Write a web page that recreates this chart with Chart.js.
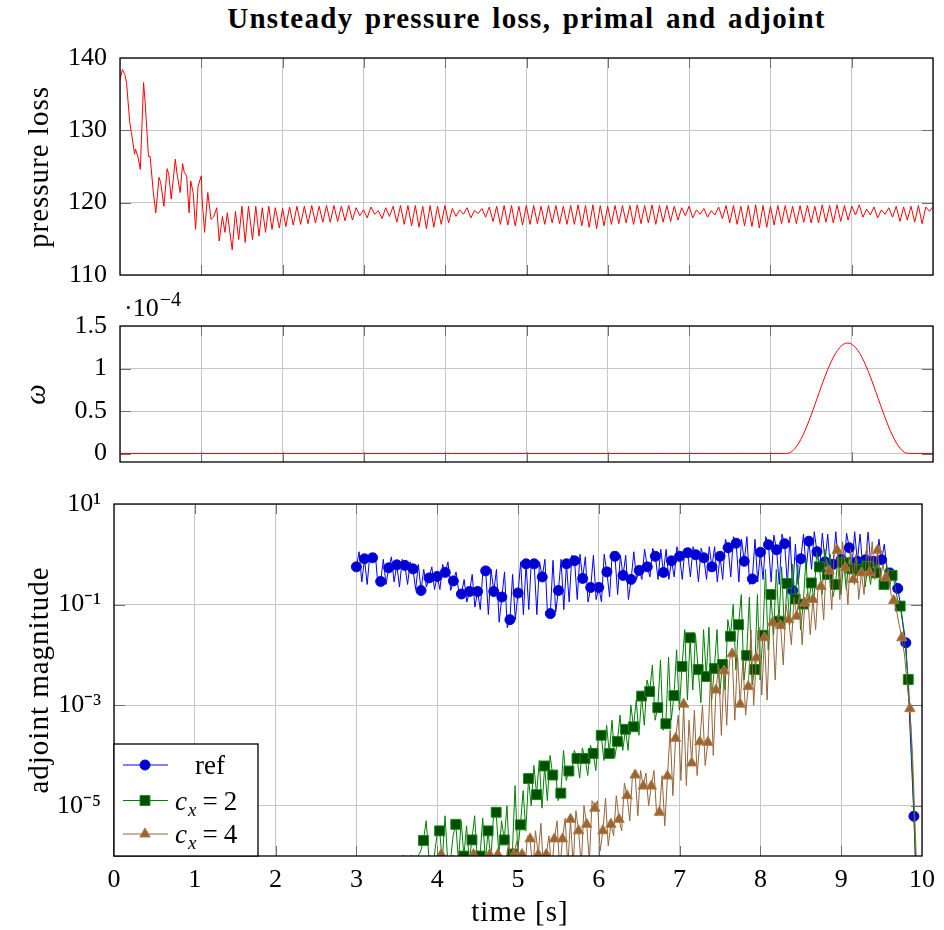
<!DOCTYPE html>
<html lang="en">
<head>
<meta charset="UTF-8">
<title>Unsteady pressure loss, primal and adjoint</title>
<script src="https://cdn.jsdelivr.net/npm/chart.js"></script>
<style>
  html, body { margin: 0; padding: 0; background: #fff; }
  #page { position: relative; width: 944px; height: 930px; font-family: 'Liberation Serif', 'Times New Roman', serif; color: #000; }
  #page canvas { position: absolute; left: 0; }
  #title { position: absolute; left: 120px; width: 813px; top: 2px; text-align: center; font-size: 29px; font-weight: bold; letter-spacing: 1.3px; word-spacing: 3px; }
  #omegaScale { position: absolute; left: 124px; top: 293px; font-size: 26px; line-height: 30px; }
  #omegaScale sup { font-size: 20px; line-height: 0; margin-left: 1px; }
  .axisTitle { position: absolute; font-size: 29px; letter-spacing: 1px; white-space: nowrap; line-height: 34px; }
  .rot { transform: translate(-50%, -50%) rotate(-90deg); }
  .flat { transform: translate(-50%, -50%); }
</style>
</head>
<body>
<div id="page">
  <div id="title">Unsteady pressure loss, primal and adjoint</div>
  <canvas id="pressureChart" width="944" height="300" style="top:0"></canvas>
  <canvas id="omegaChart" width="944" height="180" style="top:300px"></canvas>
  <canvas id="adjointChart" width="944" height="450" style="top:480px"></canvas>
  <div id="omegaScale">·10<sup>−4</sup></div>
  <div class="axisTitle rot" style="left:38px; top:167px">pressure loss</div>
  <div class="axisTitle rot" style="left:35px; top:394px; font-style:italic">ω</div>
  <div class="axisTitle rot" style="left:38px; top:680px">adjoint magnitude</div>
  <div class="axisTitle flat" style="left:520px; top:911px">time [s]</div>
</div>

<script>
// ---------- data ----------
const timeTicks = [0, 1, 2, 3, 4, 5, 6, 7, 8, 9, 10];
const pressureTicks = [110, 120, 130, 140];
const omegaTicks = [0, 0.5, 1, 1.5];
const adjointTicks = [1e-5, 1e-3, 1e-1, 1e1];

// pressure loss, first two seconds read point by point: [t, value]
const pressureStart = [
  [0.0,137.0],[0.03,138.4],[0.06,137.7],[0.08,136.6],[0.12,131.1],[0.14,129.7],[0.18,126.7],[0.19,127.4],
  [0.22,126.4],[0.25,124.6],[0.29,136.6],[0.31,133.8],[0.35,126.4],[0.37,126.4],[0.41,121.4],[0.44,118.6],
  [0.48,123.5],[0.5,122.8],[0.54,119.5],[0.58,124.7],[0.6,123.9],[0.63,120.5],[0.68,126.0],[0.7,124.1],
  [0.74,121.4],[0.77,125.4],[0.79,124.2],[0.82,123.7],[0.85,118.6],[0.87,123.0],[0.9,121.4],[0.93,116.3],
  [0.96,122.3],[1.0,123.7],[1.01,120.5],[1.04,115.9],[1.08,121.4],[1.12,117.7],[1.15,118.0],[1.19,119.3],
  [1.22,114.7],[1.26,118.1],[1.29,115.9],[1.32,118.6],[1.38,113.5],[1.42,118.8],[1.46,114.9],[1.5,119.5],
  [1.54,114.5],[1.58,119.5],[1.63,114.9],[1.67,119.5],[1.71,115.4],[1.75,119.3],[1.79,115.9],[1.83,119.5],
  [1.87,116.3],[1.91,119.3],[1.96,116.5],[2.0,119.2]
];
// after that the oscillation is read every 0.0455 s
const pressureLateT0 = 2.04;
const pressureLateDt = 0.0455;
const pressureLate = [
  116.7,119.4,116.9,119.5,117.0,119.5,117.1,119.6,117.2,119.5,117.3,119.6,117.3,119.6,117.4,119.5,117.5,119.6,117.6,
  119.3,118.2,119.0,117.9,119.4,118.4,118.9,117.8,119.3,118.1,119.5,
  117.3,119.6,117.0,119.6,116.8,119.6,116.6,119.5,116.4,119.6,116.6,119.5,117.0,119.6,117.2,
  119.2,118.1,119.0,118.4,119.3,117.9,118.9,118.5,119.2,118.0,119.4,
  117.4,119.5,117.0,119.6,116.9,119.6,116.8,119.5,116.9,
  119.6,117.0,119.6,117.1,119.5,117.0,119.6,117.2,119.6,117.1,119.5,117.0,119.6,117.0,119.7,116.8,119.6,116.6,119.7,116.4,119.6,116.8,
  119.5,117.0,119.6,117.1,119.6,117.2,119.6,117.0,119.7,117.1,119.6,117.2,119.7,117.0,119.6,117.3,119.6,117.4,119.5,117.6,
  119.3,118.2,119.5,117.9,119.0,118.4,119.2,118.0,118.9,118.3,119.4,117.8,
  119.6,117.2,119.6,117.0,119.5,116.8,119.6,116.7,119.7,116.5,119.6,116.6,119.5,116.9,
  119.6,117.1,119.6,117.2,119.5,117.1,119.6,117.3,119.6,117.2,119.5,117.2,119.7,117.3,119.6,117.2,119.7,117.4,119.6,117.6,
  119.5,118.3,119.7,118.0,119.1,118.3,119.4,117.9,119.0,118.4,119.3,118.0,119.5,
  117.4,119.4,117.6,119.5,117.3,119.6,117.1,119.4,118.8,119.5
];

// omega, in units of 1e-4
const omegaTime = [0, 8.15, 8.2, 8.25, 8.3, 8.35, 8.4, 8.45, 8.5, 8.55, 8.6, 8.65, 8.7, 8.75, 8.8, 8.85, 8.9, 8.95,
  9.0, 9.05, 9.1, 9.15, 9.2, 9.25, 9.3, 9.35, 9.4, 9.45, 9.5, 9.55, 9.6, 9.65, 9.7, 9.75, 10];
const omegaValue = [0, 0, 0, 0.014, 0.056, 0.124, 0.215, 0.325, 0.449, 0.582, 0.718, 0.851, 0.975, 1.085, 1.176, 1.244, 1.286, 1.3,
  1.286, 1.244, 1.176, 1.085, 0.975, 0.851, 0.718, 0.582, 0.449, 0.325, 0.215, 0.124, 0.056, 0.014, 0, 0, 0];

// adjoint magnitude as log10 values: one mark every 0.1 s and two points in between
const markDt = 0.1;

const refT0 = 3.0;
const refMarks = [
  -0.25,-0.09,-0.07,-0.54,-0.27,-0.21,-0.22,-0.29,-0.72,-0.47,
  -0.44,-0.36,-0.53,-0.79,-0.74,-0.74,-0.33,-0.74,-0.85,-1.30,
  -0.77,-0.19,-0.19,-0.45,-1.18,-0.72,-0.19,-0.13,-0.48,-0.66,
  -0.66,-0.35,-0.04,-0.42,-0.50,-0.32,-0.25,-0.04,-0.36,-0.13,
  -0.04,0.03,-0.01,-0.07,-0.25,-0.04,0.13,0.22,-0.14,-0.49,
  0.04,0.19,0.09,0.21,-0.72,-0.09,0.26,0.05,-0.15,-0.20,
  -0.10,0.13,-0.14,-0.11,-0.14,-0.11,-0.37,-0.68,-1.76,-5.21
];
const refBetween = [
  [0.05,-0.55],[-0.6,0.0],[0.02,-0.62],[-0.1,-0.6],[-0.05,-0.55],
  [-0.65,-0.1],[-0.6,-0.15],[-0.7,-0.2],[-0.3,-0.65],[-0.25,-0.7],
  [-0.7,-0.2],[-0.15,-0.72],[-0.35,-0.75],[-0.5,-0.95],[-0.4,-1.05],
  [-1.1,-0.3],[-1.2,-0.3],[-0.3,-1.35],[-0.35,-1.46],[-0.4,-1.3],
  [-0.15,-1.2],[-1.1,-0.1],[-1.2,-0.15],[-0.1,-1.25],[-0.12,-1.15],
  [-0.1,-1.1],[-0.95,-0.02],[-0.9,0.0],[-0.05,-0.95],[-0.02,-0.9],
  [-0.95,0.0],[-0.85,0.05],[-0.8,-0.02],[-0.02,-0.9],[0.05,-0.5],
  [-0.5,0.1],[-0.45,0.12],[-0.5,0.1],[0.1,-0.5],[-0.45,0.15],
  [-0.5,0.12],[-0.45,0.15],[-0.55,0.12],[-0.5,0.15],[0.15,-0.55],
  [-0.5,0.3],[-0.45,0.35],[-0.55,0.3],[0.35,-0.6],[0.3,-0.55],
  [-0.5,0.35],[-0.55,0.38],[-0.6,0.4],[-0.6,0.35],[0.2,-0.6],
  [0.4,-0.3],[-0.3,0.45],[-0.25,0.42],[0.4,-0.3],[0.45,-0.25],
  [-0.3,0.42],[-0.25,0.45],[0.4,-0.25],[0.44,-0.2],[-0.3,0.3],
  [0.2,-0.3],[-0.45,-0.5],[-1.0,-1.4],[-2.8,-4.0],[-6.6,-7.5]
];

const cx2T0 = 3.53;
const cx2Marks = [
  -6.1,-6.1,-6.1,-5.69,-6.1,-5.50,-6.1,-5.37,-6.0,-5.68,
  -6.0,-5.50,-5.13,-5.68,-5.96,-5.38,-4.46,-4.78,-4.21,-4.39,
  -4.75,-4.31,-4.06,-4.06,-3.96,-3.60,-3.96,-3.72,-3.48,-3.43,
  -2.82,-2.73,-3.05,-3.37,-2.81,-2.23,-1.66,-2.29,-2.43,-2.27,
  -2.19,-1.63,-1.40,-2.01,-2.29,-1.61,-0.80,-1.33,-0.58,-0.89,
  -0.99,-0.57,-0.25,-0.40,-0.60,-0.17,-0.29,-0.31,-0.24,-0.37,
  -0.60,-0.42,-1.03,-2.49,-6.8
];
const cx2Between = [
  [-6.0,-6.0],[-6.0,-6.0],[-6.0,-5.9],[-5.3,-6.0],[-6.0,-5.6],
  [-6.1,-5.2],[-6.1,-5.6],[-6.1,-5.3],[-5.4,-6.1],[-5.2,-6.1],
  [-5.25,-6.1],[-6.1,-5.2],[-6.0,-5.3],[-5.0,-6.1],[-4.6,-5.9],
  [-4.7,-5.5],[-5.0,-4.2],[-4.1,-5.05],[-4.9,-4.0],[-4.3,-4.9],
  [-3.9,-4.5],[-4.4,-3.9],[-4.45,-3.85],[-4.4,-3.8],[-4.3,-3.6],
  [-4.1,-3.4],[-3.3,-4.05],[-3.2,-3.9],[-3.9,-3.0],[-2.9,-3.6],
  [-3.4,-2.5],[-2.2,-3.3],[-2.1,-3.5],[-2.05,-3.3],[-1.9,-3.1],
  [-1.5,-2.9],[-2.7,-1.6],[-2.95,-1.5],[-1.45,-2.9],[-1.5,-2.8],
  [-2.7,-1.3],[-1.0,-2.3],[-0.8,-2.5],[-0.85,-2.6],[-0.8,-2.5],
  [-0.3,-1.9],[-1.6,-0.3],[-0.25,-1.5],[-1.4,-0.2],[-0.2,-1.5],
  [-0.1,-1.0],[-0.9,0.05],[-0.8,0.1],[0.0,-0.85],[0.02,-0.8],
  [-0.7,-0.05],[-0.6,-0.1],[-0.1,-0.65],[-0.6,-0.1],[-0.15,-0.7],
  [-0.2,-0.65],[-0.6,-0.9],[-1.4,-1.9],[-3.5,-5.0]
];

const cx4T0 = 3.85;
const cx4Marks = [
  -6.1,-6.1,-5.97,-6.1,-6.1,-6.1,-5.97,-6.1,-5.97,-5.97,
  -6.1,-5.97,-5.97,-5.66,-5.97,-5.97,-5.66,-5.66,-5.27,-5.50,
  -5.37,-5.05,-5.50,-5.37,-5.27,-4.80,-4.39,-4.61,-4.61,-5.13,
  -4.41,-3.66,-2.98,-4.15,-3.73,-3.74,-2.70,-2.32,-1.98,-2.98,
  -2.63,-2.06,-1.66,-1.36,-1.42,-1.30,-1.23,-0.97,-0.90,-0.64,
  -0.33,0.08,-0.27,-0.50,-0.37,-0.37,0.08,-0.47,-0.92,-1.66,
  -3.07,-7.0
];
const cx4Between = [
  [-6.0,-6.0],[-6.0,-6.0],[-6.0,-6.0],[-6.0,-6.0],[-6.0,-6.0],
  [-6.0,-6.0],[-6.0,-6.0],[-6.0,-6.0],[-6.0,-6.0],[-6.0,-6.0],
  [-5.75,-6.2],[-5.7,-6.2],[-6.3,-5.6],[-6.3,-5.5],[-5.35,-6.3],
  [-5.6,-6.3],[-5.3,-6.3],[-5.25,-6.2],[-6.2,-5.1],[-6.2,-5.0],
  [-6.1,-4.9],[-4.9,-5.9],[-4.85,-5.8],[-5.6,-4.8],[-5.5,-4.55],
  [-5.3,-4.4],[-5.2,-4.3],[-4.35,-5.0],[-4.3,-5.2],[-4.4,-5.4],
  [-3.5,-4.8],[-3.2,-4.5],[-4.6,-3.3],[-3.1,-4.4],[-3.0,-4.2],
  [-2.4,-4.0],[-2.2,-3.6],[-3.4,-2.1],[-3.3,-2.0],[-2.1,-3.2],
  [-1.5,-3.0],[-1.45,-2.8],[-2.9,-1.4],[-2.5,-1.2],[-2.2,-1.0],
  [-1.8,-0.85],[-0.8,-1.8],[-0.75,-1.6],[-1.5,-0.6],[-1.3,-0.1],
  [-1.1,0.2],[-0.9,0.25],[-1.0,0.1],[0.0,-0.9],[-0.8,0.2],
  [0.25,-0.5],[-0.5,-0.2],[-0.3,-0.8],[-1.1,-1.4],[-2.0,-2.6],
  [-4.0,-5.5]
];

// ---------- helpers ----------
const FONT = "'Liberation Serif', 'Times New Roman', serif";
const GRID = '#c6c6c6';

function pressurePoints() {
  const pts = pressureStart.map(p => ({ x: p[0], y: p[1] }));
  pressureLate.forEach((v, i) => pts.push({ x: pressureLateT0 + i * pressureLateDt, y: v }));
  return pts;
}

function adjointPoints(t0, marks, between) {
  const pts = [];
  marks.forEach((m, i) => {
    const t = t0 + i * markDt;
    pts.push({ x: t, y: Math.pow(10, m), mark: true });
    const b = between[i];
    if (b) {
      pts.push({ x: t + markDt / 3, y: Math.pow(10, b[0]) });
      pts.push({ x: t + 2 * markDt / 3, y: Math.pow(10, b[1]) });
    }
  });
  return pts;
}

function fixedTicks(values) {
  return scale => { scale.ticks = values.map(v => ({ value: v })); };
}

// keep the plot box exactly where it is in the reference
function fitY(width) {
  return s => { s.width = width; s.paddingTop = 0; s.paddingBottom = 0; };
}

// box around the plot with the small inward tick marks
const framePlugin = {
  id: 'frame',
  afterDatasetsDraw(chart) {
    const { ctx, chartArea: a, scales: { x, y } } = chart;
    ctx.save();
    ctx.strokeStyle = '#707070';
    ctx.lineWidth = 1;
    ctx.beginPath();
    x.ticks.forEach(t => {
      const px = Math.round(x.getPixelForValue(t.value)) + 0.5;
      if (px <= a.left + 1 || px >= a.right - 1) return;
      ctx.moveTo(px, a.bottom); ctx.lineTo(px, a.bottom - 10);
      ctx.moveTo(px, a.top); ctx.lineTo(px, a.top + 10);
    });
    y.ticks.forEach(t => {
      const py = Math.round(y.getPixelForValue(t.value)) + 0.5;
      if (py <= a.top + 1 || py >= a.bottom - 1) return;
      ctx.moveTo(a.left, py); ctx.lineTo(a.left + 11, py);
      ctx.moveTo(a.right, py); ctx.lineTo(a.right - 11, py);
    });
    ctx.stroke();
    ctx.strokeStyle = '#000';
    ctx.lineWidth = 1.3;
    ctx.strokeRect(a.left, a.top, a.width, a.height);
    ctx.restore();
  }
};

function drawMark(ctx, style, x, y, r, fill, stroke) {
  ctx.beginPath();
  if (style === 'circle') {
    ctx.arc(x, y, r, 0, Math.PI * 2);
  } else if (style === 'rect') {
    const h = r * Math.SQRT1_2;
    ctx.rect(x - h, y - h, 2 * h, 2 * h);
  } else {
    ctx.moveTo(x, y - r);
    ctx.lineTo(x + 0.866 * r, y + 0.5 * r);
    ctx.lineTo(x - 0.866 * r, y + 0.5 * r);
    ctx.closePath();
  }
  ctx.fillStyle = fill;
  ctx.fill();
  ctx.strokeStyle = stroke;
  ctx.lineWidth = 1;
  ctx.stroke();
}

const series = [
  { label: 'ref', t0: refT0, marks: refMarks, between: refBetween, line: '#0000ff', fill: '#0000cc', edge: '#0000ff', style: 'circle', r: 5 },
  { label: 'c_x = 2', t0: cx2T0, marks: cx2Marks, between: cx2Between, line: '#008000', fill: '#004f00', edge: '#158a15', style: 'rect', r: 7 },
  { label: 'c_x = 4', t0: cx4T0, marks: cx4Marks, between: cx4Between, line: '#96643a', fill: '#996633', edge: '#b27a45', style: 'triangle', r: 6 }
];

const legendPlugin = {
  id: 'adjLegend',
  afterDraw(chart) {
    const { ctx, chartArea: a } = chart;
    const x0 = a.left, y0 = 264, x1 = 258, y1 = a.bottom;
    ctx.save();
    ctx.fillStyle = '#fff';
    ctx.fillRect(x0, y0, x1 - x0, y1 - y0);
    ctx.strokeStyle = '#000';
    ctx.lineWidth = 1.3;
    ctx.strokeRect(x0, y0, x1 - x0, y1 - y0);
    const rowY = [21, 56.5, 90];
    series.forEach((s, i) => {
      const y = y0 + rowY[i];
      ctx.strokeStyle = s.line;
      ctx.lineWidth = 1;
      ctx.beginPath();
      ctx.moveTo(x0 + 9, y); ctx.lineTo(x0 + 54, y);
      ctx.stroke();
      drawMark(ctx, s.style, x0 + 31, y, s.r, s.fill, s.edge);
      ctx.fillStyle = '#000';
      ctx.textBaseline = 'alphabetic';
      const base = y + 9;
      if (s.label.indexOf('_') < 0) {
        ctx.font = '27px ' + FONT;
        ctx.textAlign = 'center';
        ctx.fillText(s.label, 210, base);
      } else {
        ctx.textAlign = 'left';
        const main = s.label.split('_')[0];
        const rest = s.label.split('_')[1];
        const sub = rest.charAt(0);
        const parts = rest.slice(1).trim().split(' ');
        let x = 175;
        ctx.font = 'italic 27px ' + FONT;
        ctx.fillText(main, x, base);
        x += ctx.measureText(main).width + 1;
        ctx.font = 'italic 19px ' + FONT;
        ctx.fillText(sub, x, base + 6);
        x += ctx.measureText(sub).width + 6;
        ctx.font = '27px ' + FONT;
        ctx.fillText(parts[0], x, base);
        x += ctx.measureText(parts[0]).width + 6;
        ctx.fillText(parts[1], x, base);
      }
    });
    ctx.restore();
  }
};

function xScale(showLabels) {
  return {
    type: 'linear', min: 0, max: 10,
    afterBuildTicks: fixedTicks(timeTicks),
    grid: { color: GRID, lineWidth: 1, drawTicks: false },
    border: { display: false },
    ticks: { display: showLabels, color: '#000', padding: 9, font: { family: FONT, size: 26 }, autoSkip: false, maxRotation: 0 },
    afterFit: s => { s.height = showLabels ? 74 : 0; }
  };
}

const common = {
  responsive: false,
  animation: false,
  events: [],
  plugins: { legend: { display: false }, tooltip: { enabled: false } }
};

// ---------- pressure loss ----------
new Chart(document.getElementById('pressureChart'), {
  type: 'line',
  data: { datasets: [{ data: pressurePoints(), borderColor: '#ff0000', borderWidth: 1, pointRadius: 0, tension: 0 }] },
  options: Object.assign({}, common, {
    layout: { padding: { top: 58, right: 11, bottom: 25, left: 0 } },
    scales: {
      x: xScale(false),
      y: {
        min: 110, max: 140,
        afterBuildTicks: fixedTicks(pressureTicks),
        grid: { color: GRID, drawTicks: false },
        border: { display: false },
        ticks: { color: '#000', padding: 13, font: { family: FONT, size: 26 } },
        afterFit: fitY(120)
      }
    }
  }),
  plugins: [framePlugin]
});

// ---------- omega ----------
new Chart(document.getElementById('omegaChart'), {
  type: 'line',
  data: { datasets: [{ data: omegaTime.map((t, i) => ({ x: t, y: omegaValue[i] })), borderColor: '#ff0000', borderWidth: 1, pointRadius: 0, tension: 0.3 }] },
  options: Object.assign({}, common, {
    layout: { padding: { top: 26, right: 11, bottom: 18, left: 0 } },
    scales: {
      x: xScale(false),
      y: {
        min: -0.1, max: 1.5,
        afterBuildTicks: fixedTicks(omegaTicks),
        grid: { color: GRID, drawTicks: false },
        border: { display: false },
        ticks: { color: '#000', padding: 13, font: { family: FONT, size: 26 }, callback: v => String(v) },
        afterFit: fitY(120)
      }
    }
  }),
  plugins: [framePlugin]
});

// ---------- adjoint magnitude ----------
const SUP = { '-': '⁻', '0': '⁰', '1': '¹', '2': '²', '3': '³', '4': '⁴', '5': '⁵', '6': '⁶', '7': '⁷', '8': '⁸', '9': '⁹' };
function powerLabel(v) {
  const e = String(Math.round(Math.log10(v)));
  return '10' + e.split('').map(c => SUP[c]).join('');
}

new Chart(document.getElementById('adjointChart'), {
  type: 'line',
  data: {
    datasets: series.map((s, i) => ({
      data: adjointPoints(s.t0, s.marks, s.between),
      order: 3 - i,
      borderColor: s.line,
      borderWidth: 1,
      tension: 0,
      clip: 0,
      pointStyle: s.style,
      pointRadius: c => (c.raw && c.raw.mark && c.raw.y > 0.85e-6 ? s.r : 0),
      pointBackgroundColor: s.fill,
      pointBorderColor: s.edge,
      pointBorderWidth: 1
    }))
  },
  options: Object.assign({}, common, {
    layout: { padding: { top: 24, right: 18, bottom: 0, left: 0 } },
    scales: {
      x: xScale(true),
      y: {
        type: 'logarithmic', min: 1e-6, max: 10,
        afterBuildTicks: fixedTicks(adjointTicks),
        grid: { color: GRID, drawTicks: false },
        border: { display: false },
        ticks: { color: '#000', padding: 13, font: { family: FONT, size: 26 }, callback: v => powerLabel(v), autoSkip: false },
        afterFit: fitY(114)
      }
    }
  }),
  plugins: [framePlugin, legendPlugin]
});
</script>
</body>
</html>
